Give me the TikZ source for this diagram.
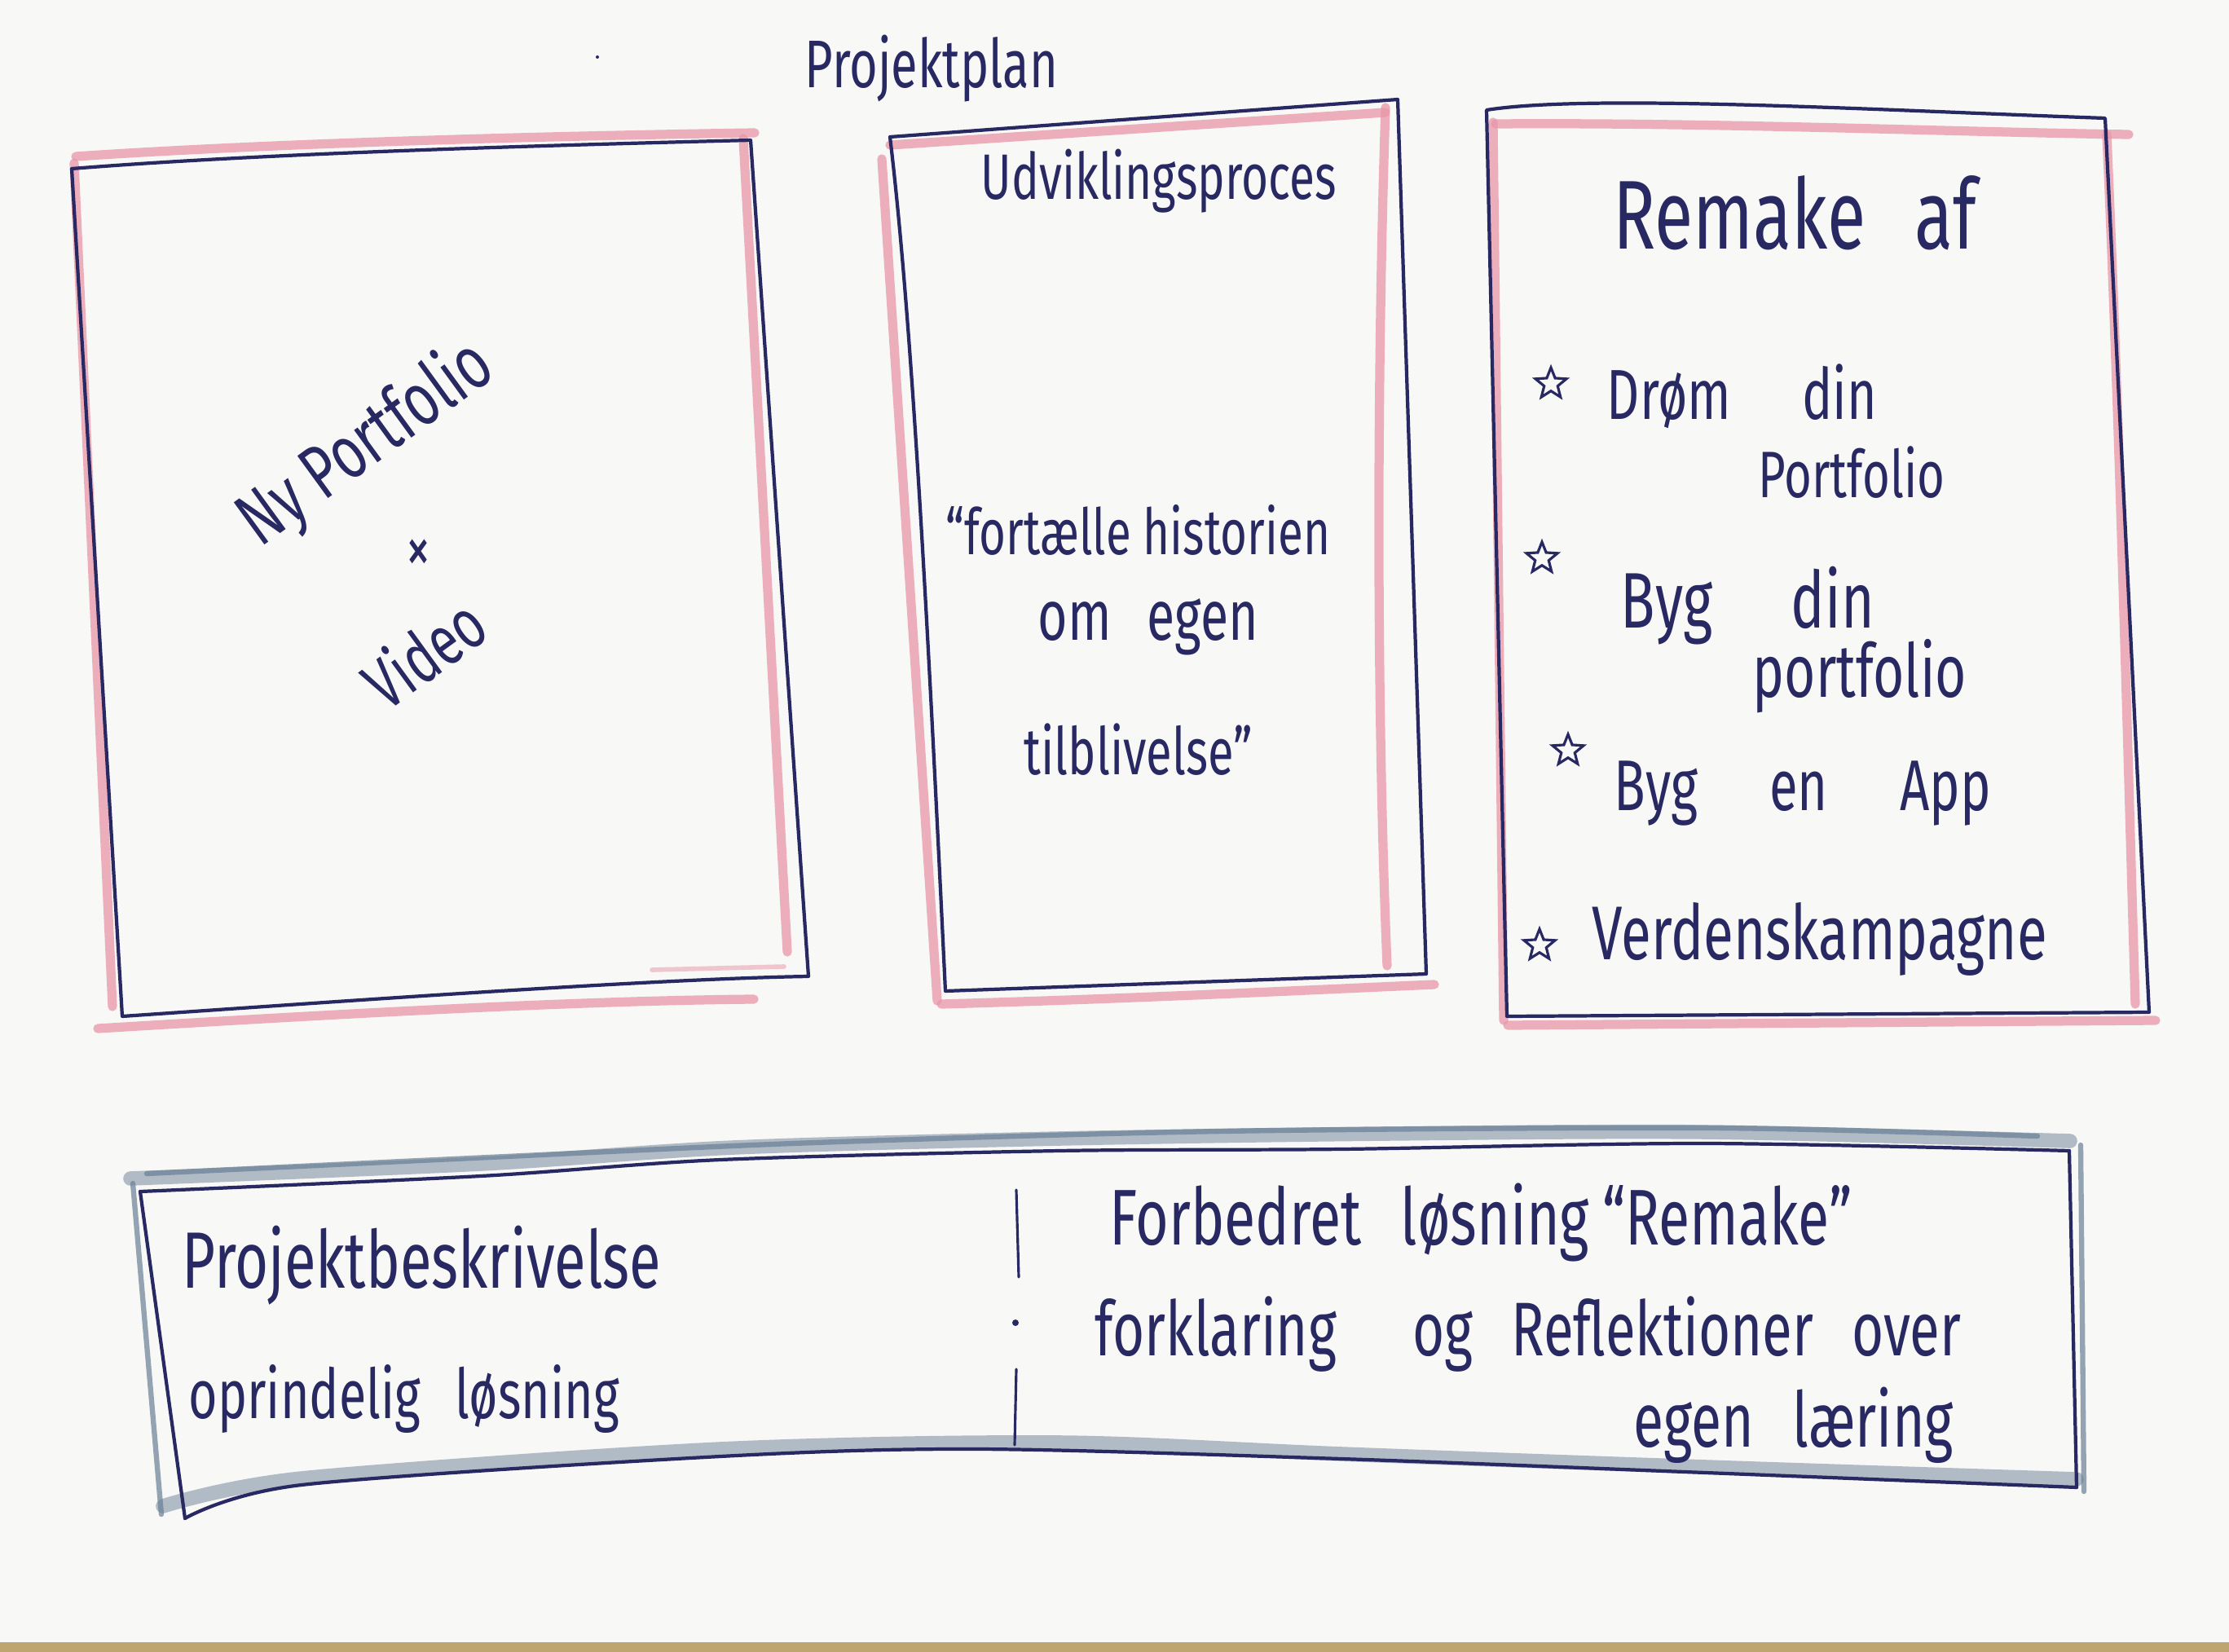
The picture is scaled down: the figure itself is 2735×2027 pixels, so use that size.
\documentclass[tikz,border=0pt]{standalone}
\usepackage{graphicx}
\usepackage{fontspec}
\setmainfont{Fira Sans}[FakeStretch=0.72]
\usetikzlibrary{shapes.geometric}

\definecolor{ink}{RGB}{40,40,98}
\definecolor{rosepencil}{RGB}{232,150,168}
\definecolor{slatepencil}{RGB}{105,128,150}
\definecolor{paper}{RGB}{248,248,246}
\definecolor{wood}{RGB}{190,165,112}

% set a handwritten line to a given width
\newcommand\fitw[2]{\resizebox{#1}{!}{#2}}

\begin{document}
\begin{tikzpicture}[x=0.01cm,y=-0.01cm,
  pen/.style={draw=ink,line width=1.2pt,line cap=round,line join=round},
  thinpen/.style={draw=ink,line width=0.9pt,line cap=round},
  rose/.style={draw=rosepencil,line width=3.2pt,line cap=round,opacity=0.75},
  roselight/.style={draw=rosepencil,line width=1.6pt,line cap=round,opacity=0.5},
  slate/.style={draw=slatepencil,line width=5pt,line cap=round,opacity=0.5},
  slatethin/.style={draw=slatepencil,line width=1.8pt,line cap=round,opacity=0.7},
  hand/.style={text=ink,inner sep=0pt,anchor=base west},
  handc/.style={text=ink,inner sep=0pt},
  starmark/.style={star,star points=5,star point ratio=2.3,draw=ink,line width=0.9pt,
    minimum size=0.4cm,inner sep=0pt}
]
% sheet of paper and the table edge below it
\fill[paper] (0,0) rectangle (2735,2027);
\useasboundingbox (0,0) rectangle (2735,2027);
\fill[wood] (0,2015) rectangle (2735,2027);
\fill[ink] (733,70) circle (2);

% title
\node[hand] (title) at (987,107) {\fitw{3.1cm}{Projektplan}};

% ---------- left card ----------
\draw[rose] (93,192) .. controls (300,178) and (600,168) .. (926,163);
\draw[rose] (91,200) -- (138,1235);
\draw[rose] (912,170) -- (966,1168);
\draw[rose] (120,1262) .. controls (400,1245) and (700,1228) .. (925,1226);
\draw[roselight] (800,1190) -- (962,1186);
\draw[pen] (150,1247) -- (88,207) .. controls (300,190) and (600,180) .. (921,172)
  -- (992,1198) .. controls (800,1201) and (400,1230) .. cycle;

\node[handc,rotate=36] (ny) at (450,545) {\fitw{3.6cm}{Ny Portfolio}};
\node[handc] (times) at (514,682) {\fitw{0.3cm}{×}};
\node[handc,rotate=36] (video) at (520,800) {\fitw{1.6cm}{Video}};

% ---------- middle card ----------
\draw[rose] (1082,195) -- (1150,1228);
\draw[rose] (1092,178) -- (1700,138);
\draw[rose] (1700,132) .. controls (1688,500) and (1690,900) .. (1702,1185);
\draw[rose] (1155,1232) .. controls (1400,1225) and (1600,1215) .. (1760,1208);
\draw[pen] (1160,1216) .. controls (1140,800) and (1120,400) .. (1092,168)
  -- (1715,122) -- (1750,1195) -- cycle;

\node[hand] (udv) at (1203,244) {\fitw{4.36cm}{Udviklingsproces}};
\node[hand] (fort) at (1160,680) {\fitw{4.71cm}{“fortælle historien}};
\node[hand] (omegen) at (1273,785) {\fitw{2.7cm}{om\enspace egen}};
\node[hand] (tilbl) at (1256,950) {\fitw{2.8cm}{tilblivelse”}};

% ---------- right card ----------
\draw[rose] (1832,150) -- (1845,1252);
\draw[rose] (1835,152) .. controls (2100,150) and (2400,162) .. (2612,165);
\draw[rose] (2585,165) .. controls (2600,500) and (2610,900) .. (2620,1232);
\draw[rose] (1850,1258) -- (2645,1252);
\draw[pen] (1849,1247) -- (1824,135) .. controls (1950,115) and (2300,135) .. (2583,145)
  -- (2637,1242) -- cycle;

\node[hand] (remake) at (1979,305) {\fitw{4.45cm}{Remake\enspace af}};
\node[starmark] (s1) at (1903,471) {};
\node[hand] (drom) at (1971,514) {\fitw{3.31cm}{Drøm\quad din}};
\node[hand] (pf1) at (2157,610) {\fitw{2.29cm}{Portfolio}};
\node[starmark] (s2) at (1892,685) {};
\node[hand] (byg1) at (1988,770) {\fitw{3.11cm}{Byg\quad din}};
\node[hand] (pf2) at (2150,855) {\fitw{2.62cm}{portfolio}};
\node[starmark] (s3) at (1924,921) {};
\node[hand] (byg2) at (1980,994) {\fitw{4.62cm}{Byg\quad en\quad App}};
\node[starmark] (s4) at (1889,1160) {};
\node[hand] (verd) at (1953,1177) {\fitw{5.58cm}{Verdenskampagne}};

% ---------- bottom strip ----------
\draw[slate] plot[smooth] coordinates {(160,1446) (590,1428) (900,1408) (1300,1397) (1700,1391) (2093,1389) (2540,1400)};
\draw[slatethin] plot[smooth] coordinates {(180,1440) (600,1420) (1000,1402) (1500,1388) (2100,1384) (2500,1394)};
\draw[slate] plot[smooth] coordinates {(200,1848) (370,1814) (884,1778) (1300,1770) (1646,1784) (2093,1800) (2548,1815)};
\draw[slatethin] (2553,1405) -- (2557,1830);
\draw[slatethin] (163,1452) -- (198,1858);

\draw[pen] plot[smooth] coordinates {(172,1462) (590,1443) (884,1423) (1300,1412) (1646,1410) (2093,1403) (2539,1412)};
\draw[pen] (2539,1412) -- (2548,1825);
\draw[pen] plot[smooth] coordinates {(227,1863) (370,1822) (884,1787) (1200,1778) (1646,1790) (2093,1807) (2548,1825)};
\draw[pen] (172,1462) -- (227,1863);

% divider between the two halves
\draw[thinpen] (1247,1460) -- (1250,1567);
\fill[ink] (1246,1623) circle (4);
\draw[thinpen] (1247,1680) -- (1245,1773);

\node[hand] (besk) at (223,1580) {\fitw{5.87cm}{Projektbeskrivelse}};
\node[hand] (oprl) at (231,1740) {\fitw{5.28cm}{oprindelig\enspace løsning}};
\node[hand] (forb) at (1361,1527) {\fitw{9.1cm}{Forbedret\enspace løsning\,“Remake”}};
\node[hand] (fork) at (1343,1663) {\fitw{10.62cm}{forklaring\quad og\enspace Reflektioner\enspace over}};
\node[hand] (egen) at (2004,1775) {\fitw{3.92cm}{egen\enspace læring}};
\end{tikzpicture}
\end{document}
